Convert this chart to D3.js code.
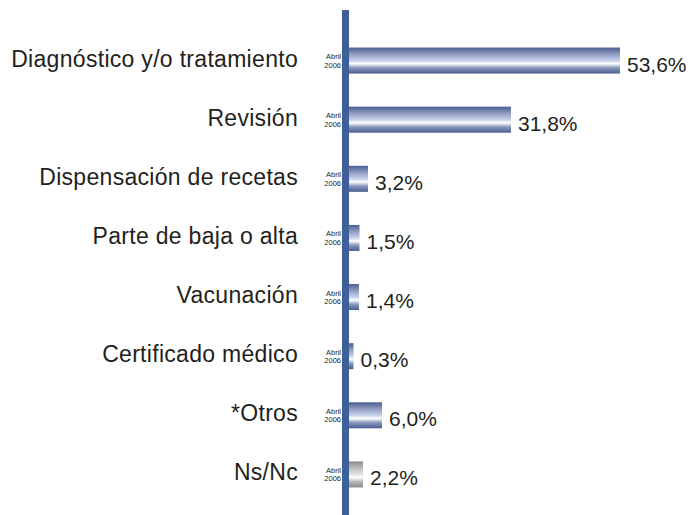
<!DOCTYPE html>
<html><head><meta charset="utf-8">
<script src="https://cdn.jsdelivr.net/npm/d3@7"></script>
<style>body{margin:0;background:#fff}svg{display:block}</style>
</head><body><svg id="c" width="692" height="515"></svg>
<script>
const categories = ["Diagnóstico y/o tratamiento","Revisión","Dispensación de recetas","Parte de baja o alta","Vacunación","Certificado médico","*Otros","Ns/Nc"];
const values = [53.6,31.8,3.2,1.5,1.4,0.3,6.0,2.2];
const valueLabels = ["53,6%","31,8%","3,2%","1,5%","1,4%","0,3%","6,0%","2,2%"];
const periodLabel = ["Abril","2006"];

const svg = d3.select("#c");
const defs = svg.append("defs");
function grad(id, dark, light){
  const g = defs.append("linearGradient").attr("id",id).attr("x1",0).attr("y1",0).attr("x2",0).attr("y2",1);
  [[0,dark],[0.25,d3.interpolateRgb(dark,light)(0.55)],[0.5,light],[0.62,"#ffffff"],[0.78,d3.interpolateRgb(dark,light)(0.5)],[1,dark]]
    .forEach(([o,c])=>g.append("stop").attr("offset",o).attr("stop-color",c));
}
grad("gb","#4a5d8f","#c8d0ea");
grad("gg","#8a8a8a","#e4e4e4");

const y = d3.scaleBand().domain(categories).range([31,504]).paddingInner(0.56).paddingOuter(0.28);
const x = d3.scaleLinear().domain([0,53.6]).range([352,620]);
const barStart = 345;

svg.append("g").selectAll("rect").data(categories).join("rect")
  .attr("x", barStart).attr("y", d=>y(d))
  .attr("width", (d,i)=>x(values[i])-barStart)
  .attr("height", y.bandwidth())
  .attr("fill", (d,i)=> d==="Ns/Nc" ? "url(#gg)" : "url(#gb)");

// axis line
svg.append("rect").attr("x",342).attr("y",10).attr("width",7).attr("height",505).attr("fill","#3f5f98");

const font = "Liberation Sans, Arial, Helvetica, sans-serif";
svg.append("g").selectAll("text").data(categories).join("text")
  .attr("x",298).attr("y",d=>y(d)+y.bandwidth()/2+6)
  .attr("text-anchor","end").attr("font-family",font).attr("font-size",23)
  .attr("letter-spacing","0.3px").attr("fill","#231f20")
  .text(d=>d);

const pl = svg.append("g").selectAll("text").data(categories).join("text")
  .attr("text-anchor","end").attr("font-family",font).attr("font-size",7.5).attr("fill","#231f20")
  .attr("x",341).attr("y",d=>y(d)+y.bandwidth()/2-1.5);
pl.append("tspan").attr("x",341).text(periodLabel[0]);
pl.append("tspan").attr("x",341).attr("dy",8.5).text(periodLabel[1]);

svg.append("g").selectAll("text").data(categories).join("text")
  .attr("x",(d,i)=>x(values[i])+7)
  .attr("y",d=>y(d)+y.bandwidth()/2+11)
  .attr("font-family",font).attr("font-size",21).attr("fill","#231f20")
  .text((d,i)=>valueLabels[i]);
</script></body></html>
